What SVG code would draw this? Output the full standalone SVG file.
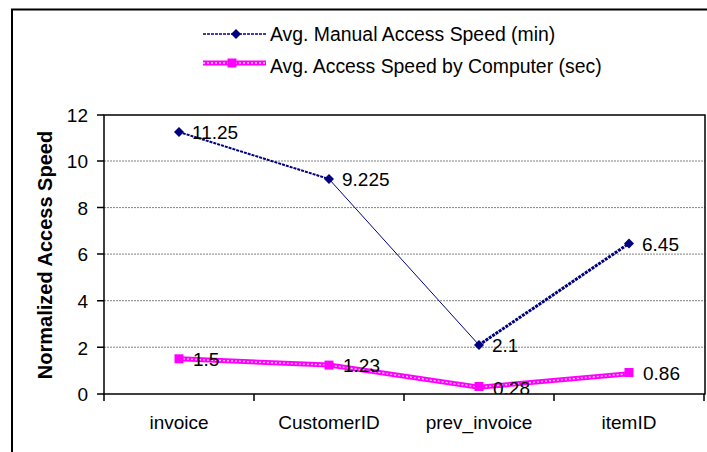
<svg xmlns="http://www.w3.org/2000/svg" width="707" height="452" viewBox="0 0 707 452">
  <style>
    text { font-family: "Liberation Sans", Arial, sans-serif; fill: #000; }
    .tick { font-size: 19px; }
    .val { font-size: 19px; }
    .leg { font-size: 19.4px; }
    .title { font-size: 20px; font-weight: bold; }
    .grid { stroke: #808080; stroke-width: 1; stroke-dasharray: 2 1; }
    .axis { stroke: #000; stroke-width: 1.5; fill: none; }
    .manual { stroke: #000080; fill: none; }
    .comp { stroke: #FF00FF; stroke-width: 5; fill: none; }
    .comp-in { stroke: #FFC6FF; stroke-width: 1.4; stroke-dasharray: 2 2; fill: none; }
  </style>
  <defs>
    <clipPath id="plotClip">
      <rect x="104" y="115" width="601" height="279"/>
    </clipPath>
    <path id="diamond" d="M0,-5 L5,0 L0,5 L-5,0 Z" fill="#000080"/>
    <rect id="square" x="-4.5" y="-4.5" width="9" height="9" fill="#FF00FF"/>
  </defs>

  <rect x="0" y="0" width="707" height="452" fill="#fff"/>

  <!-- outer chart frame (top and left edges visible) -->
  <path d="M12,452 V9.5 H707" fill="none" stroke="#000" stroke-width="2"/>

  <!-- legend -->
  <g id="legend">
    <line x1="203" y1="34" x2="266" y2="34" stroke="#000080" stroke-width="1.5" stroke-dasharray="3 1"/>
    <use href="#diamond" x="236" y="34"/>
    <text class="leg" x="270" y="40.5">Avg. Manual Access Speed (min)</text>
    <line x1="203" y1="63" x2="266" y2="63" class="comp"/>
    <line x1="203" y1="63" x2="266" y2="63" class="comp-in"/>
    <use href="#square" x="232" y="63"/>
    <text class="leg" x="270" y="73">Avg. Access Speed by Computer (sec)</text>
  </g>

  <!-- gridlines -->
  <g id="grid">
    <line class="grid" x1="104" y1="161" x2="705" y2="161"/>
    <line class="grid" x1="104" y1="207.6" x2="705" y2="207.6"/>
    <line class="grid" x1="104" y1="254.1" x2="705" y2="254.1"/>
    <line class="grid" x1="104" y1="300.7" x2="705" y2="300.7"/>
    <line class="grid" x1="104" y1="347.2" x2="705" y2="347.2"/>
  </g>

  <!-- plot frame and axes -->
  <g id="axes">
    <rect class="axis" x="104" y="115" width="601" height="279"/>
    <path class="axis" d="M97,115 H104 M97,161 H104 M97,207.6 H104 M97,254.1 H104 M97,300.7 H104 M97,347.2 H104 M97,394 H104"/>
    <path class="axis" d="M104,394 V401 M254,394 V401 M404,394 V401 M554,394 V401 M704,394 V401"/>
    <g class="tick" text-anchor="end">
      <text x="88" y="121.8">12</text>
      <text x="88" y="168.3">10</text>
      <text x="88" y="214.9">8</text>
      <text x="88" y="261.4">6</text>
      <text x="88" y="308">4</text>
      <text x="88" y="354.5">2</text>
      <text x="88" y="401">0</text>
    </g>
    <g class="tick" text-anchor="middle">
      <text x="179" y="429">invoice</text>
      <text x="329" y="429">CustomerID</text>
      <text x="479" y="429">prev_invoice</text>
      <text x="629" y="429">itemID</text>
    </g>
    <text class="title" transform="translate(52,255) rotate(-90)" text-anchor="middle">Normalized Access Speed</text>
  </g>

  <!-- data series -->
  <g id="connectors">
    <path class="manual" d="M179,132 L329,179" stroke-width="2" stroke-dasharray="3 1"/>
    <path class="manual" d="M329,179 L479,345" stroke-width="1"/>
    <path class="manual" d="M479,345 L629,243.5" stroke-width="3" stroke-dasharray="3 1"/>
    <path class="comp" d="M179,358.8 L329,365.1 L479,387.2 L629,373.7"/>
    <path class="comp-in" d="M179,358.8 L329,365.1 L479,387.2 L629,373.7"/>
  </g>

  <g id="manual-points">
    <use href="#diamond" x="179" y="132"/>
    <use href="#diamond" x="329" y="179"/>
    <use href="#diamond" x="479" y="345"/>
    <use href="#diamond" x="629" y="243.5"/>
  </g>
  <g id="computer-points">
    <use href="#square" x="179" y="358.8"/>
    <use href="#square" x="329" y="365.1"/>
    <use href="#square" x="479" y="386.5"/>
    <use href="#square" x="629" y="372.5"/>
  </g>

  <!-- data labels -->
  <g id="labels" class="val" clip-path="url(#plotClip)">
    <text x="192" y="138.5">11.25</text>
    <text x="342" y="186">9.225</text>
    <text x="492" y="352">2.1</text>
    <text x="642" y="250.5">6.45</text>
    <text x="193" y="366">1.5</text>
    <text x="343" y="372">1.23</text>
    <text x="493" y="394.5">0.28</text>
    <text x="643" y="380">0.86</text>
  </g>
</svg>
